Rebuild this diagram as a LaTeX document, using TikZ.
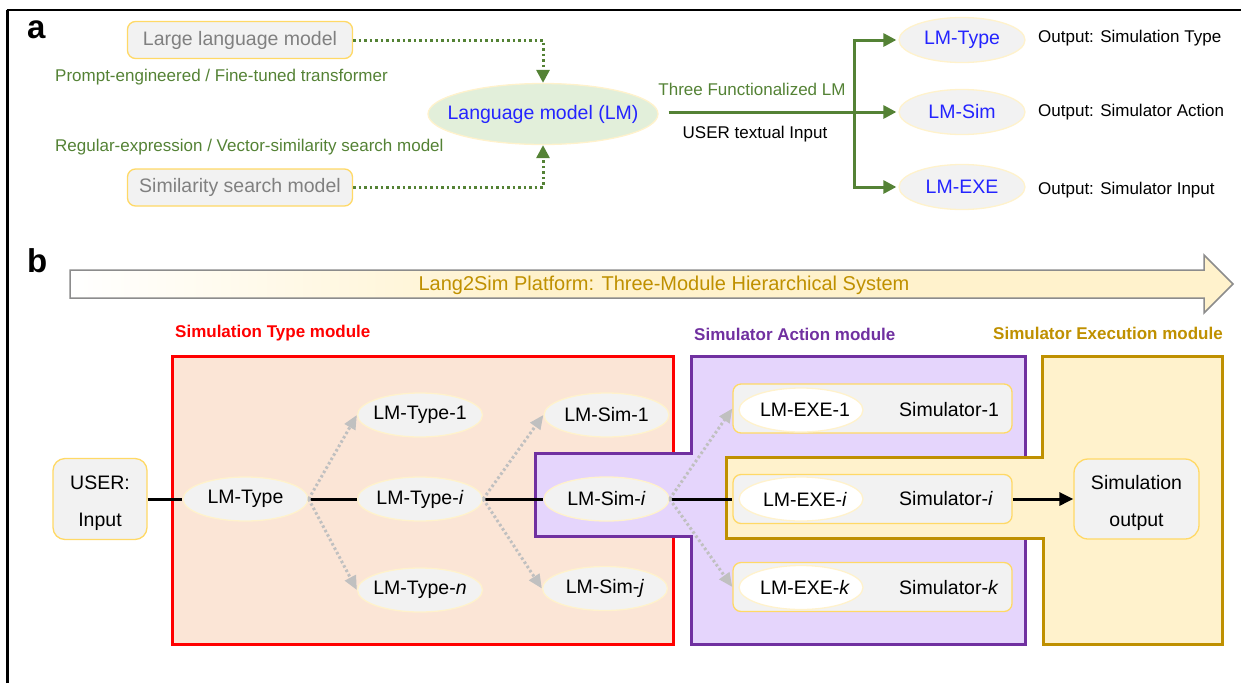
\documentclass[tikz,border=0pt]{standalone}
\usepackage{fontspec}
\setmainfont{Liberation Sans}
\usetikzlibrary{shapes.geometric, arrows.meta}

\definecolor{boxfill}{HTML}{F2F2F2}
\definecolor{boxline}{HTML}{FFD966}
\definecolor{ellline}{HTML}{FFF2CC}
\definecolor{lmgreen}{HTML}{E2EFDA}
\definecolor{darkgreen}{HTML}{548235}
\definecolor{lmblue}{HTML}{2424FF}
\definecolor{txtgray}{HTML}{808080}
\definecolor{dotgray}{HTML}{C0C0C0}
\definecolor{typered}{HTML}{FF0000}
\definecolor{typefill}{HTML}{FBE5D6}
\definecolor{actpurple}{HTML}{7030A0}
\definecolor{actfill}{HTML}{E5D5FC}
\definecolor{exegold}{HTML}{BF9000}
\definecolor{exefill}{HTML}{FFF2CC}
\definecolor{arrowline}{HTML}{8C8C8C}

\pgfdeclarehorizontalshading{lanefade}{100bp}{color(0bp)=(white); color(25bp)=(white); color(45bp)=(exefill); color(100bp)=(exefill)}

\newcommand{\nodefont}{\fontsize{19.5}{37}\selectfont}
\newcommand{\notefont}{\fontsize{17}{20}\selectfont}
% lowers one line of text a little while keeping its box size
\newcommand{\lowline}[1]{\raisebox{-4pt}[\height][\depth]{#1}}

\begin{document}
\begin{tikzpicture}[x=1pt,y=-1pt,
  roundbox/.style={draw=boxline, fill=boxfill, line width=1.3pt, rounded corners=8pt,
    inner sep=0pt, align=center, font=\nodefont},
  oval/.style={ellipse, draw=ellline, fill=boxfill, line width=1.3pt,
    minimum width=125pt, minimum height=44pt, inner xsep=-14pt, inner ysep=0pt, font=\nodefont},
  blueoval/.style={oval, text=lmblue, minimum width=126pt, minimum height=45pt},
  note/.style={font=\notefont, inner sep=0pt},
  title/.style={font=\notefont\bfseries, inner sep=0pt, anchor=west},
  panel/.style={font=\fontsize{33}{36}\selectfont\bfseries, inner sep=0pt, anchor=base west},
  gdot/.style={draw=darkgreen, line width=3pt, dash pattern=on 2.5pt off 3pt,
    -{Triangle[length=13pt,width=13pt]}},
  garrow/.style={draw=darkgreen, line width=3pt, line join=miter,
    -{Triangle[length=13pt,width=13pt]}, shorten >=2pt},
  graydot/.style={draw=dotgray, line width=3pt, dash pattern=on 2.5pt off 2.5pt,
    -{Triangle[length=14pt,width=12pt]}},
  blk/.style={draw=black, line width=3pt},
  blkarrow/.style={blk, -{Triangle[length=14pt,width=13pt]}}
]
\useasboundingbox (0,0) rectangle (1244,683);

% outer frame
\draw[line width=2.5pt] (7.5,683) -- (7.5,9.5);
\draw[line width=2pt] (6.5,9.5) -- (1241,9.5);

% ---------------- panel a ----------------
\node[panel] (pa) at (27,38) {a};

\node[roundbox, text=txtgray, minimum width=225pt, minimum height=37pt] (llm) at (240,40) {Large language model};
\node[roundbox, text=txtgray, minimum width=225pt, minimum height=37pt] (ssm) at (240,187.5) {Similarity search model};
\node[note, text=darkgreen, anchor=west] (llmnote) at (55,77) {Prompt-engineered / Fine-tuned transformer};
\node[note, text=darkgreen, anchor=west] (ssmnote) at (55,147) {Regular-expression / Vector-similarity search model};

\node[oval, fill=lmgreen, text=lmblue, minimum width=230pt, minimum height=61pt, inner xsep=-20pt] (lm) at (543,114) {Language model (LM)};

\draw[gdot] (llm.east) -| (lm.north);
\draw[gdot] (ssm.east) -| (lm.south);

\node[blueoval] (lmt) at (962,40) {LM-Type};
\node[blueoval] (lms) at (962,112) {LM-Sim};
\node[blueoval] (lme) at (962,187) {LM-EXE};

\coordinate (j) at (854,112);
\draw[draw=darkgreen, line width=3pt, shorten <=10pt] (lm.east |- j) -- (j);
\draw[garrow] (j) |- (lmt.west);
\draw[garrow] (j) -- (lms.west);
\draw[garrow] (j) |- (lme.west);

\node[note, text=darkgreen] (three) at (752,89) {Three Functionalized LM};
\node[note] (usertxt) at (755,134) {USER textual Input};

\node[note, anchor=west] (out1) at (1038,38) {Output: Simulation Type};
\node[note, anchor=west] (out2) at (1038,112) {Output: Simulator Action};
\node[note, anchor=west] (out3) at (1038,190) {Output: Simulator Input};

% ---------------- panel b ----------------
\node[panel] (pb) at (27,272) {b};

% platform arrow
\path[draw=arrowline, line width=1.5pt, shading=lanefade]
  (70,270) -- (1204,270) -- (1204,255) -- (1233,284) -- (1204,313) -- (1204,298) -- (70,298) -- cycle;
\node[font=\fontsize{20}{24}\selectfont, text=exegold, inner sep=0pt] (platform) at (664,285)
  {Lang2Sim Platform: Three-Module Hierarchical System};

% module titles
\node[title, text=typered] (tmod) at (175,333) {Simulation Type module};
\node[title, text=actpurple] (amod) at (694,334) {Simulator Action module};
\node[title, text=exegold] (emod) at (993,333) {Simulator Execution module};

% module regions
\draw[draw=typered, fill=typefill, line width=3pt] (172,356) rectangle (673,644);
\draw[draw=actpurple, fill=actfill, line width=3pt]
  (691,356) -- (1025,356) -- (1025,644) -- (691,644) -- (691,536) -- (535,536)
  -- (535,453) -- (691,453) -- cycle;
\draw[draw=exegold, fill=exefill, line width=3pt]
  (1042,356) -- (1222,356) -- (1222,644) -- (1043,644) -- (1043,538) -- (726,538)
  -- (726,457) -- (1042,457) -- cycle;

% nodes
\node[roundbox, rounded corners=12pt, minimum width=94pt, minimum height=81pt] (user) at (100,499)
  {\lowline{USER:}\\\lowline{Input}};

\node[oval] (lmtype) at (245.5,499) {LM-Type};
\node[oval] (lmt1) at (420,415) {LM-Type-1};
\node[oval] (lmti) at (420,499) {LM-Type-\textit{i}};
\node[oval] (lmtn) at (420,590) {LM-Type-\textit{n}};

\node[oval] (lms1) at (606.5,415) {LM-Sim-1};
\node[oval] (lmsi) at (606.5,499) {LM-Sim-\textit{i}};
\node[oval] (lmsj) at (605,588.5) {LM-Sim-\textit{j}};

\node[roundbox, minimum width=279pt, minimum height=49pt] (ex1) at (872.5,408.5) {};
\node[roundbox, minimum width=279pt, minimum height=49pt] (exi) at (872.5,499) {};
\node[roundbox, minimum width=279pt, minimum height=49pt] (exk) at (872.5,587) {};

\node[oval, fill=white, minimum width=124pt] (e1) at (801,410) {\hspace*{8pt}LM-EXE-1};
\node[oval, fill=white, minimum width=124pt] (ei) at (801,499) {\hspace*{8pt}LM-EXE-\textit{i}};
\node[oval, fill=white, minimum width=124pt] (ek) at (801,587.5) {\hspace*{8pt}LM-EXE-\textit{k}};

\node[font=\nodefont, inner sep=0pt, anchor=west] (sim1) at (899,410) {Simulator-1};
\node[font=\nodefont, inner sep=0pt, anchor=west] (simi) at (899,499) {Simulator-\textit{i}};
\node[font=\nodefont, inner sep=0pt, anchor=west] (simk) at (899,587.5) {Simulator-\textit{k}};

\node[roundbox, rounded corners=14pt, minimum width=125pt, minimum height=80pt] (simout) at (1136.5,499)
  {\lowline{Simulation}\\\lowline{output}};

% connectors
\draw[blk] (user.east) -- (lmtype.west);
\draw[blk] (lmtype.east) -- (lmti.west);
\draw[blk] (lmti.east) -- (lmsi.west);
\draw[blk] (lmsi.east) -- (exi.west);
\draw[blkarrow] (exi.east) -- (simout.west);

\draw[graydot] (lmtype.east) -- (lmt1.west);
\draw[graydot] (lmtype.east) -- (lmtn.west);
\draw[graydot] (lmti.east) -- (lms1.west);
\draw[graydot] (lmti.east) -- (lmsj.west);
\draw[graydot] (lmsi.east) -- (ex1.west);
\draw[graydot] (lmsi.east) -- (exk.west);
\end{tikzpicture}
\end{document}
